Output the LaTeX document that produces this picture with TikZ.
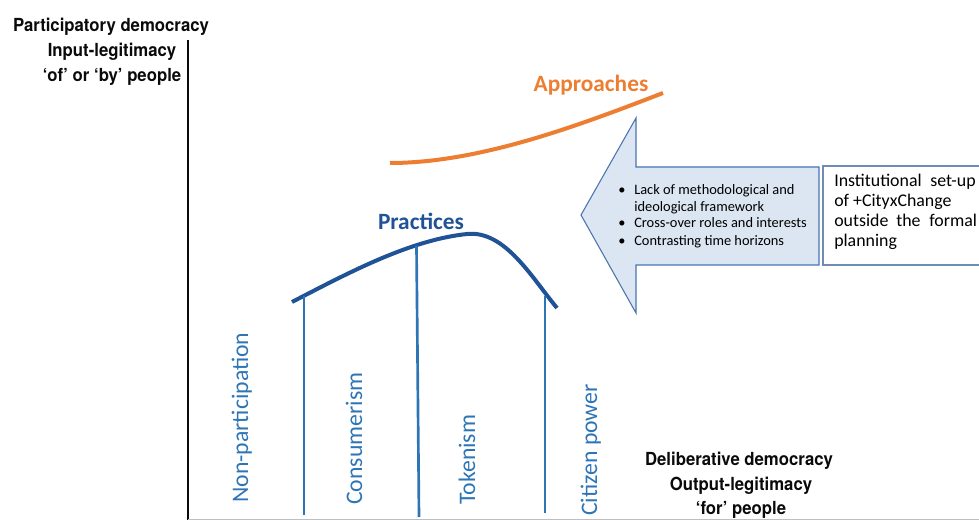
\documentclass[tikz,border=0pt]{standalone}
\usepackage{fontspec}
\setmainfont{Carlito}
\newfontfamily\headfont[FakeStretch=0.93]{TeX Gyre Heros}
\definecolor{axisblack}{RGB}{10,10,10}
\definecolor{approachorange}{RGB}{237,125,49}
\definecolor{practiceblue}{RGB}{32,82,150}
\definecolor{phaseblue}{RGB}{46,117,182}
\definecolor{arrowfill}{RGB}{220,230,242}
\definecolor{arrowline}{RGB}{74,116,176}
\definecolor{boxline}{RGB}{110,140,180}
\begin{document}
\begin{tikzpicture}[x=0.75pt,y=-0.75pt,
  headlabel/.style={font=\headfont\bfseries\fontsize{13.5}{16}\selectfont, inner sep=0, anchor=base, text=axisblack},
  curvetitle/.style={font=\bfseries\fontsize{17.5}{20}\selectfont, inner sep=0, anchor=base},
  phaselabel/.style={rotate=90, anchor=base west, inner sep=0, text=phaseblue, font=\fontsize{17.8}{20}\selectfont},
  bulletline/.style={anchor=base west, inner sep=0, font=\fontsize{10.8}{13}\selectfont},
  boxword/.style={anchor=base west, inner sep=0, font=\fontsize{13.4}{15}\selectfont},
  divider/.style={draw=phaseblue, line width=2pt},
]
\useasboundingbox (0,0) rectangle (979,520);
\clip (0,0) rectangle (979,520);

% axes
\draw[axisblack, line width=2.2pt] (188,40) -- (188,520);
\draw[black!25, line width=0.6pt] (188,519.6) -- (979,519.6);

% axis captions
\node[headlabel] (pd)  at (111,32) {Participatory democracy};
\node[headlabel] (il)  at (112,57) {Input-legitimacy};
\node[headlabel] (obp) at (112,82) {‘of’ or ‘by’ people};
\node[headlabel] (dd)  at (739,465) {Deliberative democracy};
\node[headlabel] (ol)  at (741,490) {Output-legitimacy};
\node[headlabel] (fp)  at (741,514) {‘for’ people};

% approaches curve
\coordinate (a0) at (390,163);
\coordinate (a1) at (663,93);
\draw[approachorange, line width=3pt] (a0) .. controls (480,163) and (580,125) .. (a1);
\node[curvetitle, text=approachorange] (appr) at (591,92) {Approaches};

% practices curve
\coordinate (p0) at (292,302);
\coordinate (pk) at (467,234);
\coordinate (p1) at (557,308);
\draw[practiceblue, line width=3pt] (p0) .. controls (350,272) and (410,240) .. (pk)
   .. controls (505,230) and (532,278) .. (p1);
\node[curvetitle, text=practiceblue] (prac) at (421,230) {Practices};

% dividers between the stages
\coordinate (d1t) at (304,296);
\coordinate (d1b) at (304,515);
\coordinate (d2t) at (416.5,246);
\coordinate (d2b) at (419,517);
\coordinate (d3t) at (545,296);
\coordinate (d3b) at (545,513);
\draw[divider] (d1t) -- (d1b);
\draw[divider] (d2t) -- (d2b);
\draw[divider] (d3t) -- (d3b);

% stage labels
\node[phaselabel] (np)  at (248,503) {Non-participation};
\node[phaselabel] (con) at (362,505) {Consumerism};
\node[phaselabel] (tok) at (475,505) {Tokenism};
\node[phaselabel] (cp)  at (597,516) {Citizen power};

% block arrow
\draw[fill=arrowfill, draw=arrowline, line width=0.8pt]
  (581,215) -- (636,118) -- (636,167) -- (819,167) -- (819,265) -- (636,265) -- (636,313) -- cycle;
\foreach \y/\nm in {195/b1,228/b3,246/b4}
  \node[bulletline] (\nm dot) at (618,\y) {\textbullet};
\node[bulletline] (b1) at (634,195) {Lack of methodological and};
\node[bulletline] (b2) at (634,212) {ideological framework};
\node[bulletline] (b3) at (634,228) {Cross-over roles and interests};
\node[bulletline] (b4) at (634,246) {Contrasting time horizons};

% institutional box, running past the right edge
\draw[fill=white, draw=boxline, line width=0.8pt] (823,166) rectangle (995,265);
\node[boxword] (w1) at (834,187) {Institutional};
\node[boxword] (w2) at (930,187) {set-up};
\node[boxword] (w3) at (834,207) {of +CityxChange};
\node[boxword] (w4) at (834,227) {outside};
\node[boxword] (w5) at (896,227) {the};
\node[boxword] (w6) at (929,227) {formal};
\node[boxword] (w7) at (834,247) {planning};
\end{tikzpicture}
\end{document}
